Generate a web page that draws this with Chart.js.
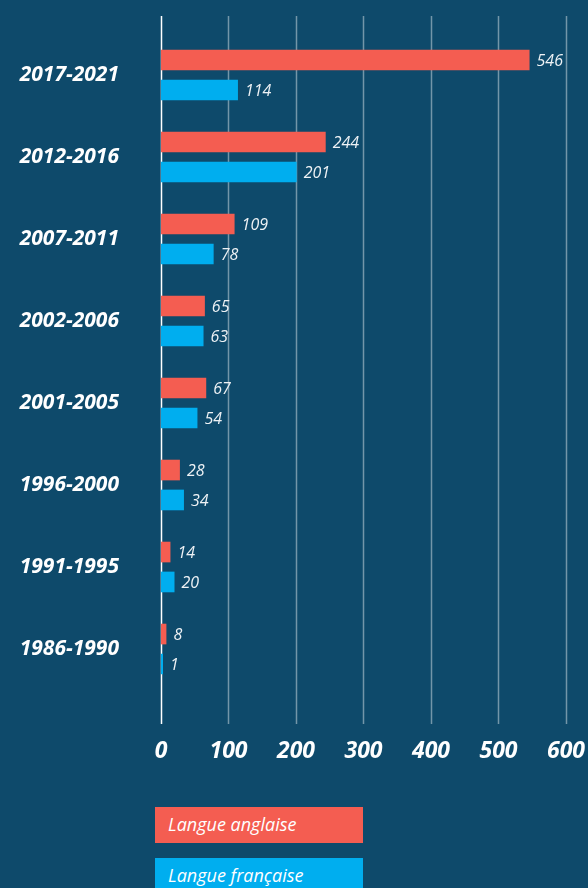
<!DOCTYPE html>
<html>
<head>
<meta charset="utf-8">
<script src="https://cdn.jsdelivr.net/npm/chart.js@4"></script>
<style>
  html, body { margin: 0; padding: 0; background: #0e4a6b; }
  #wrap { position: relative; width: 588px; height: 888px; overflow: hidden; background: #0e4a6b; }
  #chartBox { position: absolute; left: 0; top: 0; width: 588px; height: 790px; }
  .leg { position: absolute; left: 155px; width: 195px; height: 36px; padding-left: 13px;
         font-family: "Open Sans", sans-serif; font-style: italic; font-size: 18px; color: #fff;
         line-height: 35px; }
</style>
</head>
<body>
<div id="wrap">
  <div id="chartBox"><canvas id="c"></canvas></div>
  <div id="legend"></div>
</div>
<script>
const categories = ["2017-2021", "2012-2016", "2007-2011", "2002-2006", "2001-2005", "1996-2000", "1991-1995", "1986-1990"];
const englishValues = [546, 244, 109, 65, 67, 28, 14, 8];
const frenchValues = [114, 201, 78, 63, 54, 34, 20, 1];
const seriesNames = ["Langue anglaise", "Langue française"];
const xTicks = [0, 100, 200, 300, 400, 500, 600];

const RED = "#f45d51";
const BLUE = "#00aeef";

const gridPlugin = {
  id: "gridExt",
  beforeDatasetsDraw(chart) {
    const { ctx, chartArea, scales } = chart;
    const x = scales.x;
    ctx.save();
    x.ticks.forEach(t => {
      const px = Math.round(x.getPixelForValue(t.value)) + 0.5;
      ctx.beginPath();
      ctx.strokeStyle = t.value === 0 ? "#ffffff" : "rgba(255,255,255,0.42)";
      ctx.lineWidth = 1.5;
      ctx.moveTo(px, chartArea.top - 18);
      ctx.lineTo(px, chartArea.bottom + 34);
      ctx.stroke();
    });
    ctx.restore();
  }
};

const valuePlugin = {
  id: "values",
  afterDatasetsDraw(chart) {
    const { ctx } = chart;
    ctx.save();
    ctx.font = "italic 16px 'Open Sans', sans-serif";
    ctx.fillStyle = "#eef2f5";
    ctx.textBaseline = "middle";
    ctx.textAlign = "left";
    chart.data.datasets.forEach((ds, di) => {
      const meta = chart.getDatasetMeta(di);
      meta.data.forEach((el, i) => {
        ctx.fillText(String(ds.data[i]), el.x + 7, el.y + 1);
      });
    });
    ctx.restore();
  }
};

const chart = new Chart(document.getElementById("c"), {
  type: "bar",
  data: {
    labels: categories,
    datasets: [
      { label: seriesNames[0], data: englishValues, backgroundColor: RED, minBarLength: 2 },
      { label: seriesNames[1], data: frenchValues, backgroundColor: BLUE, minBarLength: 2 }
    ]
  },
  options: {
    indexAxis: "y",
    responsive: true,
    maintainAspectRatio: false,
    animation: false,
    categoryPercentage: 0.73,
    barPercentage: 0.69,
    layout: { padding: { top: 34, right: 0, left: 0, bottom: 0 } },
    plugins: { legend: { display: false }, tooltip: { enabled: false } },
    scales: {
      x: {
        min: 0, max: 600,
        afterBuildTicks: s => { s.ticks = xTicks.map(v => ({ value: v })); },
        afterFit: s => { s.height = 100; },
        grid: { display: false, drawTicks: true, tickLength: 45 },
        border: { display: false },
        ticks: {
          color: "#ffffff",
          padding: 3,
          maxRotation: 0,
          font: { family: "'Open Sans', sans-serif", size: 23, weight: "bold", style: "italic" }
        }
      },
      y: {
        afterFit: s => { s.width = 161; },
        grid: { display: false, drawTicks: true, tickLength: 42 },
        border: { display: false },
        ticks: {
          color: "#ffffff",
          padding: 0,
          font: { family: "'Open Sans', sans-serif", size: 21, weight: "bold", style: "italic" }
        }
      }
    }
  },
  plugins: [gridPlugin, valuePlugin]
});

const legend = document.getElementById("legend");
chart.data.datasets.forEach((ds, i) => {
  const d = document.createElement("div");
  d.className = "leg";
  d.style.top = (807 + i * 51) + "px";
  d.style.background = ds.backgroundColor;
  d.textContent = ds.label;
  legend.appendChild(d);
});
</script>
</body>
</html>
